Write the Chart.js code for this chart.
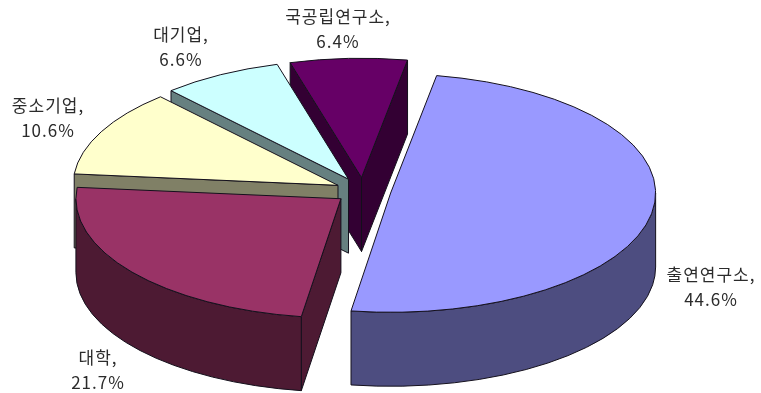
<!DOCTYPE html>
<html lang="ko">
<head>
<meta charset="utf-8">
<title>연구주체별 비중</title>
<script src="https://cdn.jsdelivr.net/npm/chart.js@4"></script>
<style>
  html, body { margin: 0; padding: 0; background: #fff; }
  canvas { display: block; }
</style>
</head>
<body>
<canvas id="graph1" width="761" height="393"></canvas>
<script>
const categories = ['출연연구소', '대학', '중소기업', '대기업', '국공립연구소'];
const shares = [44.6, 21.7, 10.6, 6.6, 6.4];

const topColors = ['#9999FF', '#993366', '#FFFFCC', '#CCFFFF', '#660066'];
const sideColors = ['#4D4D80', '#4D1A33', '#808066', '#668080', '#330033'];
const explode = [28, 28, 28, 30, 30];

// label centre x and the y of its first line, same order as categories
const labelSpots = [[711, 275], [98, 358], [48, 106], [181, 35], [338, 17]];
const lineGap = 25;

// pie is flattened on the y axis and extruded downward
const tilt = 0.45;
const depth = 74;
const drawOrder = [4, 3, 2, 1, 0]; // back to front

function outline(ctx, fill) {
  ctx.fillStyle = fill;
  ctx.fill();
  ctx.strokeStyle = '#14101c';
  ctx.lineWidth = 1;
  ctx.stroke();
}

function drawWall(ctx, cx, cy, r, angle, fill) {
  const ex = cx + Math.cos(angle) * r;
  const ey = cy + Math.sin(angle) * r * tilt;
  ctx.beginPath();
  ctx.moveTo(cx, cy);
  ctx.lineTo(ex, ey);
  ctx.lineTo(ex, ey + depth);
  ctx.lineTo(cx, cy + depth);
  ctx.closePath();
  outline(ctx, fill);
}

function drawSlice(ctx, arc, index) {
  const r = arc.outerRadius;
  const mid = (arc.startAngle + arc.endAngle) / 2;
  const cx = arc.x + Math.cos(mid) * arc.options.offset;
  const cy = arc.y + Math.sin(mid) * arc.options.offset * tilt;
  const start = arc.startAngle;
  const end = arc.endAngle;
  const side = sideColors[index];

  // radial walls only show when they face the viewer
  if (Math.cos(start) < 0) drawWall(ctx, cx, cy, r, start, side);
  if (Math.cos(end) > 0) drawWall(ctx, cx, cy, r, end, side);

  // outer rim: front half of the ellipse only
  const from = Math.max(start, 0);
  const to = Math.min(end, Math.PI);
  if (to > from) {
    ctx.beginPath();
    ctx.ellipse(cx, cy, r, r * tilt, 0, from, to);
    ctx.ellipse(cx, cy + depth, r, r * tilt, 0, to, from, true);
    ctx.closePath();
    outline(ctx, side);
  }

  ctx.beginPath();
  ctx.moveTo(cx, cy);
  ctx.ellipse(cx, cy, r, r * tilt, 0, start, end);
  ctx.closePath();
  outline(ctx, arc.options.backgroundColor);
}

const pie3d = {
  id: 'pie3d',
  beforeDatasetsDraw(chart) {
    const ctx = chart.ctx;
    const arcs = chart.getDatasetMeta(0).data;
    ctx.save();
    ctx.lineJoin = 'round';
    drawOrder.forEach(i => drawSlice(ctx, arcs[i], i));
    ctx.restore();
    return false; // the flat arcs are replaced by the extruded ones
  },
  afterDraw(chart) {
    const ctx = chart.ctx;
    ctx.save();
    ctx.fillStyle = '#2b2b2b';
    ctx.font = '17px "Noto Sans CJK KR"';
    ctx.letterSpacing = '1px';
    ctx.textAlign = 'center';
    ctx.textBaseline = 'middle';
    categories.forEach((name, i) => {
      const [x, y] = labelSpots[i];
      ctx.fillText(name + ',', x, y);
      ctx.fillText(shares[i].toFixed(1) + '%', x, y + lineGap);
    });
    ctx.restore();
  }
};

new Chart(document.getElementById('graph1'), {
  type: 'pie',
  data: {
    labels: categories,
    datasets: [{
      data: shares,
      backgroundColor: topColors,
      borderWidth: 0,
      offset: explode,
      hoverOffset: 0
    }]
  },
  options: {
    responsive: false,
    animation: false,
    rotation: 10,
    radius: 265,
    layout: { padding: { right: 35, bottom: 11 } },
    events: [],
    plugins: {
      legend: { display: false },
      tooltip: { enabled: false }
    }
  },
  plugins: [pie3d]
});
</script>
</body>
</html>
